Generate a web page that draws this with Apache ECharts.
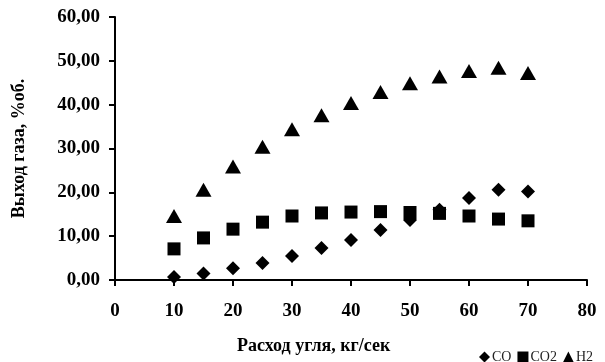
<!DOCTYPE html>
<html>
<head>
<meta charset="utf-8">
<script src="https://cdn.jsdelivr.net/npm/echarts@6/dist/echarts.min.js"></script>
<style>
  html, body { margin: 0; padding: 0; background: #fff; }
  #chart { width: 605px; height: 362px; }
</style>
</head>
<body>
<div id="chart"></div>
<script>
const flow = [10, 15, 20, 25, 30, 35, 40, 45, 50, 55, 60, 65, 70];
const coValues = [0.7, 1.5, 2.7, 3.9, 5.5, 7.3, 9.1, 11.4, 13.7, 16.0, 18.7, 20.6, 20.2];
const co2Values = [7.1, 9.6, 11.6, 13.2, 14.6, 15.3, 15.5, 15.6, 15.4, 15.2, 14.6, 13.9, 13.5];
const h2Values = [14.6, 20.6, 25.9, 30.4, 34.4, 37.6, 40.4, 42.9, 44.9, 46.4, 47.7, 48.4, 47.2];

const serif = 'Liberation Serif';
const pairs = (vals) => flow.map((x, i) => [x, vals[i]]);

const chart = echarts.init(document.getElementById('chart'));

chart.setOption({
  animation: false,
  grid: { left: 115, right: 18, top: 17, bottom: 82 },
  title: {
    text: 'Расход угля, кг/сек',
    left: 232,
    top: 332,
    textStyle: { fontFamily: serif, fontWeight: 'bold', fontSize: 18, color: '#000' }
  },
  legend: {
    left: 474,
    top: 345,
    itemWidth: 11,
    itemHeight: 11,
    itemGap: 6,
    textStyle: { fontFamily: serif, fontSize: 14, color: '#222', padding: [0, 0, 0, -3] },
    data: [
      { name: 'CO', icon: 'diamond' },
      { name: 'CO2', icon: 'rect' },
      { name: 'H2', icon: 'triangle' }
    ]
  },
  xAxis: {
    type: 'value',
    min: 0,
    max: 80,
    interval: 10,
    splitLine: { show: false },
    axisLine: { lineStyle: { color: '#000', width: 2 } },
    axisTick: { length: 6, lineStyle: { color: '#000', width: 2 } },
    axisLabel: { margin: 22, fontFamily: serif, fontWeight: 'bold', fontSize: 19, color: '#000' }
  },
  yAxis: {
    type: 'value',
    min: 0,
    max: 60,
    interval: 10,
    name: 'Выход газа, %об.',
    nameLocation: 'middle',
    nameGap: 87,
    nameTextStyle: { fontFamily: serif, fontWeight: 'bold', fontSize: 18, color: '#000' },
    splitLine: { show: false },
    axisLine: { show: true, lineStyle: { color: '#000', width: 2 } },
    axisTick: { show: true, length: 6, lineStyle: { color: '#000', width: 2 } },
    axisLabel: {
      margin: 15,
      fontFamily: serif,
      fontWeight: 'bold',
      fontSize: 19,
      color: '#000',
      formatter: (v) => v.toFixed(2).replace('.', ',')
    }
  },
  series: [
    {
      name: 'CO',
      type: 'scatter',
      symbol: 'diamond',
      symbolSize: 14,
      itemStyle: { color: '#000', opacity: 1 },
      data: pairs(coValues),
      z: 2
    },
    {
      name: 'CO2',
      type: 'scatter',
      symbol: 'rect',
      symbolSize: 13,
      itemStyle: { color: '#000', opacity: 1 },
      data: pairs(co2Values),
      z: 3
    },
    {
      name: 'H2',
      type: 'scatter',
      symbol: 'triangle',
      symbolSize: [16, 14],
      itemStyle: { color: '#000', opacity: 1 },
      data: pairs(h2Values),
      z: 4
    }
  ]
});
</script>
</body>
</html>
